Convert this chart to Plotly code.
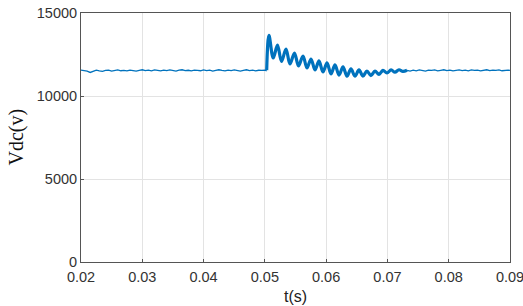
import plotly.graph_objects as go

# Steady-state (before the disturbance)
t_pre = [0.0200, 0.0205, 0.0210, 0.0215, 0.0220, 0.0225, 0.0230, 0.0235, 0.0240, 0.0245,
         0.0250, 0.0255, 0.0260, 0.0265, 0.0270, 0.0275, 0.0280, 0.0285, 0.0290, 0.0295,
         0.0300, 0.0305, 0.0310, 0.0315, 0.0320, 0.0325, 0.0330, 0.0335, 0.0340, 0.0345,
         0.0350, 0.0355, 0.0360, 0.0365, 0.0370, 0.0375, 0.0380, 0.0385, 0.0390, 0.0395,
         0.0400, 0.0405, 0.0410, 0.0415, 0.0420, 0.0425, 0.0430, 0.0435, 0.0440, 0.0445,
         0.0450, 0.0455, 0.0460, 0.0465, 0.0470, 0.0475, 0.0480, 0.0485, 0.0490, 0.0495,
         0.0500, 0.0503]
v_pre = [11560, 11540, 11500, 11420, 11480, 11560, 11520, 11490, 11540, 11560,
         11500, 11530, 11570, 11520, 11540, 11510, 11560, 11530, 11500, 11550,
         11580, 11530, 11560, 11520, 11570, 11540, 11510, 11560, 11530, 11570,
         11540, 11500, 11560, 11580, 11530, 11550, 11510, 11560, 11540, 11520,
         11570, 11530, 11560, 11500, 11550, 11580, 11540, 11510, 11560, 11530,
         11570, 11540, 11500, 11550, 11580, 11530, 11560, 11510, 11550, 11540,
         11560, 11520]

# Transient (damped oscillation after the step)
t_tr = [0.0503, 0.05067, 0.05137, 0.05206, 0.05271, 0.05345, 0.05410, 0.05483, 0.05549,
        0.05622, 0.05687, 0.05753, 0.05818, 0.05883, 0.05948, 0.06014, 0.06079, 0.06144,
        0.06210, 0.06275, 0.06340, 0.06405, 0.06470, 0.06536, 0.06600, 0.06666, 0.06730,
        0.06797, 0.06862, 0.06927, 0.06992, 0.07060, 0.07123, 0.07188, 0.07253, 0.07320]
v_tr = [11560, 13650, 12290, 13070, 12080, 12830, 11930, 12590, 11810,
        12410, 11690, 12230, 11570, 12110, 11450, 11990, 11330, 11870,
        11260, 11750, 11200, 11630, 11200, 11570, 11200, 11500, 11230,
        11500, 11300, 11540, 11385, 11570, 11430, 11580, 11480, 11550]

# Steady-state (after the transient)
t_post = [0.0732, 0.0737, 0.0742, 0.0747, 0.0752, 0.0757, 0.0762, 0.0767, 0.0772, 0.0777,
          0.0782, 0.0787, 0.0792, 0.0797, 0.0802, 0.0807, 0.0812, 0.0817, 0.0822, 0.0827,
          0.0832, 0.0837, 0.0842, 0.0847, 0.0852, 0.0857, 0.0862, 0.0867, 0.0872, 0.0877,
          0.0882, 0.0887, 0.0892, 0.0897, 0.0900]
v_post = [11550, 11500, 11560, 11520, 11570, 11530, 11500, 11560, 11540, 11570,
          11520, 11550, 11580, 11530, 11560, 11510, 11550, 11570, 11530, 11560,
          11520, 11570, 11540, 11560, 11510, 11550, 11580, 11530, 11560, 11540,
          11570, 11520, 11550, 11560, 11540]

x_ticks = [0.02, 0.03, 0.04, 0.05, 0.06, 0.07, 0.08, 0.09]
x_ticklabels = ["0.02", "0.03", "0.04", "0.05", "0.06", "0.07", "0.08", "0.09"]
y_ticks = [0, 5000, 10000, 15000]
y_ticklabels = ["0", "5000", "10000", "15000"]

blue = "#0072BD"
fig = go.Figure()
fig.add_trace(go.Scatter(x=t_pre, y=v_pre, mode="lines",
                         line=dict(color=blue, width=1.3), showlegend=False))
fig.add_trace(go.Scatter(x=t_tr, y=v_tr, mode="lines",
                         line=dict(color=blue, width=3.2, shape="spline", smoothing=1.0),
                         showlegend=False))
fig.add_trace(go.Scatter(x=t_post, y=v_post, mode="lines",
                         line=dict(color=blue, width=1.3), showlegend=False))

tickfont = dict(family="Liberation Sans, Arial, sans-serif", size=14.5, color="#333333")
fig.update_layout(
    width=523, height=306,
    margin=dict(l=81, r=13, t=13, b=44),
    paper_bgcolor="white", plot_bgcolor="white",
    xaxis=dict(range=[0.02, 0.09], tickvals=x_ticks, ticktext=x_ticklabels,
               automargin=False, ticklabeloverflow="allow", ticklabelstandoff=2,
               showgrid=True, gridcolor="#e3e3e3", gridwidth=1,
               showline=True, linecolor="#555555", linewidth=1, mirror=True,
               ticks="inside", ticklen=3, tickcolor="#555555",
               zeroline=False, tickfont=tickfont,
               title=dict(text="t(s)", standoff=6,
                          font=dict(family="Liberation Sans, Arial, sans-serif",
                                    size=16, color="#222222"))),
    yaxis=dict(range=[0, 15000], tickvals=y_ticks, ticktext=y_ticklabels,
               automargin=False, ticklabeloverflow="allow",
               showgrid=True, gridcolor="#e3e3e3", gridwidth=1,
               showline=True, linecolor="#555555", linewidth=1, mirror=True,
               ticks="inside", ticklen=3, tickcolor="#555555",
               zeroline=False, tickfont=tickfont),
    annotations=[dict(text="Vdc(v)", xref="paper", yref="paper",
                      x=(16 - 81) / 429, y=0.5, xanchor="center", yanchor="middle",
                      textangle=-90, showarrow=False,
                      font=dict(family="Liberation Serif, Times New Roman, serif",
                                size=20, color="#111111"))],
)
fig.write_html("out.html", config={"displayModeBar": False},
               post_script="document.body.style.margin='0';document.body.style.overflow='hidden';")
